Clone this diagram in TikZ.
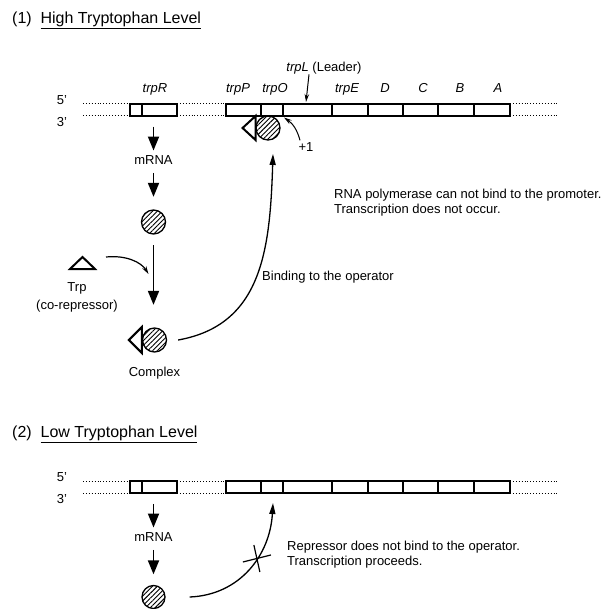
\documentclass[tikz,border=0pt]{standalone}
\usepackage{fontspec}
\setmainfont{Liberation Sans}
\usetikzlibrary{arrows.meta, positioning, patterns.meta}

\begin{document}
\begin{tikzpicture}[
    x=1pt, y=-1pt,
    txt/.style={font=\fontsize{13}{15}\selectfont, inner sep=0pt},
    heading/.style={font=\fontsize{16}{18}\selectfont, inner sep=0pt, anchor=west},
    gene/.style={font=\fontsize{13}{15}\selectfont\itshape, inner sep=0pt, anchor=base},
    rna/.style={txt, outer sep=5pt},
    strand/.style={line width=1.5pt},
    dotline/.style={line width=1pt, dash pattern=on 1pt off 1.9pt},
    genebox/.style={draw, strand, inner sep=0pt, minimum height=12pt},
    flow/.style={-{Triangle[length=14pt,width=11pt]}, line width=1.8pt},
    bind/.style={-{Triangle[length=11pt,width=6pt]}, line width=1.3pt},
    pointer/.style={-{Stealth[length=8pt,width=4.5pt]}, line width=1pt},
    repressor/.style={circle, draw, line width=1.3pt, minimum size=24pt, inner sep=0pt,
        pattern={Lines[angle=45, distance=3.4pt, line width=0.9pt]}},
    trpmol/.style={line width=2pt, line join=miter}
]
    \useasboundingbox (0,0) rectangle (605,609);

    \node[heading] (title1) at (12,20) {(1)~~\underline{High Tryptophan Level}};
    \node[heading] (title2) at (12,434) {(2)~~\underline{Low Tryptophan Level}};

    \foreach \s/\dy in {1/0, 2/377} {
        \begin{scope}[yshift=-\dy pt]
            \node[txt] (five\s) at (62,100) {5'};
            \node[txt] (three\s) at (62,122) {3'};
            \draw[dotline] (83,104) -- (130,104) (83,116) -- (130,116)
                (177,104) -- (226,104) (177,116) -- (226,116)
                (510,104) -- (558,104) (510,116) -- (558,116);
            \node[genebox, minimum width=47pt] (trpR\s) at (153.5,110) {};
            \draw[strand] (142,104) -- (142,116);
            \node[genebox, minimum width=284pt] (operon\s) at (368,110) {};
            \foreach \x in {261,283,332,368,403,438,474}
                \draw[strand] (\x,104) -- (\x,116);
            \node[rna] (mrna\s) at (153.5,160) {mRNA};
            \draw[flow, shorten <=10pt] (trpR\s) -- (mrna\s);
        \end{scope}
    }

    \foreach \x/\g in {155/trpR, 238/trpP, 275/trpO, 347/trpE, 385/D, 423/C, 460/B, 498/A}
        \node[gene] (lbl-\g) at (\x,92.5) {\g};
    \node[txt, anchor=base] (leader) at (324,71.5) {\textit{trpL} (Leader)};
    \coordinate (leaderseg) at (306,102);
    \draw[pointer] ([xshift=-15pt]leader.south) -- (leaderseg);

    \node[repressor] (rep1) at (268,128) {};
    \draw[trpmol] (rep1.west) ++(0,12) -- ++(-13,-12) -- ++(13,-12) -- cycle;
    \node[txt] (plus1) at (306,147) {+1};
    \coordinate (start) at (284,117.5);
    \draw[pointer] ([xshift=-6pt,yshift=2pt]plus1.north) to[bend right=20] (start);

    \node[repressor] (rep2) at (153.5,222) {};
    \draw[flow, shorten <=3.5pt, shorten >=12.5pt] (mrna1) -- (rep2);
    \node[repressor] (cplx) at (154.5,340) {};
    \draw[trpmol] (cplx.west) ++(0,13) -- ++(-13,-13) -- ++(13,-13) -- cycle;
    \draw[flow, shorten <=10.5pt, shorten >=22.5pt] (rep2) -- (rep2 |- cplx.north);
    \node[txt, below=14.5pt of cplx] (cplxlbl) {Complex};

    \coordinate (trp) at (82.5,263);
    \draw[trpmol] (70,269) -- (82.5,257) -- (95,269) -- cycle;
    \node[txt, align=center, font=\fontsize{13}{18}\selectfont] (trplbl) at (77,297) {Trp\\(co-repressor)};
    \coordinate (trpout) at (106,257);
    \coordinate (trpin) at (148.5,274);
    \draw[pointer, line width=1.2pt] (trpout) .. controls (126,255) and (141,262) .. (trpin);

    \draw[bind] ([xshift=11pt]cplx.east) .. controls (262,325) and (270,250) .. ([xshift=5pt,yshift=-13.5pt]rep1.south);
    \node[txt, anchor=west] (bindlbl) at (262,277) {Binding to the operator};
    \node[txt, anchor=west, align=left] (nopol) at (334,202.5) {RNA polymerase can not bind to the promoter.\\Transcription does not occur.};

    \node[repressor, minimum size=23pt] (rep3) at (153.5,597) {};
    \draw[flow, shorten <=3.5pt, shorten >=10.5pt] (mrna2) -- (rep3);
    \coordinate (op2) at (273,503);
    \draw[bind] ([xshift=24pt]rep3.east) .. controls (240,595) and (270,555) .. (op2) coordinate[pos=0.6] (blocked);
    \draw[line width=1.2pt] (blocked) +(-14,4) -- +(14,-3) (blocked) +(-3,-13) -- +(3,14);
    \node[txt, anchor=west, align=left] (proceeds) at (287,554.5) {Repressor does not bind to the operator.\\Transcription proceeds.};
\end{tikzpicture}
\end{document}
